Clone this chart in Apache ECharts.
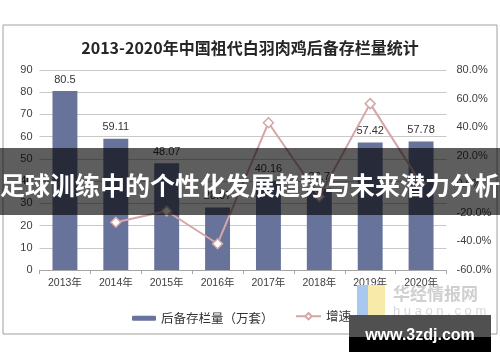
<!DOCTYPE html>
<html><head><meta charset="utf-8">
<script src="https://cdn.jsdelivr.net/npm/echarts@6/dist/echarts.min.js"></script>
<style>html,body{margin:0;padding:0;background:#fff;}#c{width:500px;height:362px;}</style>
</head><body><div id="c"></div>
<script>
const categories = ['2013年','2014年','2015年','2016年','2017年','2018年','2019年','2020年'];
const stockValues = [80.5, 59.11, 48.07, 28.07, 40.16, 36.70, 57.42, 57.78];
const growthValues = [null, -26.57, -18.68, -41.61, 43.07, -8.62, 56.46, 0.63];
const leftTicks = {min: 0, max: 90, interval: 10};
const rightTicks = {min: -60, max: 80, interval: 20};
const titleText = '2013-2020年中国祖代白羽肉鸡后备存栏量统计';
const barName = '后备存栏量（万套）';
const lineName = '增速（%）';
const bannerText = '足球训练中的个性化发展趋势与未来潜力分析';

const chart = echarts.init(document.getElementById('c'), null, {renderer: 'canvas'});
const font = '"Liberation Sans", Arial, "Noto Sans CJK SC", sans-serif';
chart.setOption({
  animation: false,
  backgroundColor: '#fff',
  title: {
    text: titleText, left: 'center', top: 35,
    textStyle: {fontFamily: '"Noto Sans CJK SC", serif', fontSize: 16, fontWeight: 'bold', color: '#262626'}
  },
  legend: [{
    data: [barName], left: 127, top: 307, itemWidth: 24, itemHeight: 5, itemGap: 4,
    textStyle: {fontFamily: '"Noto Sans CJK SC", sans-serif', fontSize: 12.5, color: '#333'}
  }, {
    data: [lineName], left: 290, top: 305, itemWidth: 25, itemHeight: 8, itemGap: 3,
    textStyle: {fontFamily: '"Noto Sans CJK SC", sans-serif', fontSize: 12.5, color: '#333'}
  }],
  grid: {left: 39.5, right: 53.5, top: 70, bottom: 92},
  xAxis: {
    type: 'category', data: categories,
    axisLine: {lineStyle: {color: '#a6a6a6'}},
    axisTick: {show: true, length: 4, lineStyle: {color: '#a6a6a6'}},
    axisLabel: {fontFamily: font, fontSize: 10.5, color: '#404040', margin: 8}
  },
  yAxis: [{
    type: 'value', min: leftTicks.min, max: leftTicks.max, interval: leftTicks.interval,
    axisLine: {show: false}, axisTick: {show: false},
    splitLine: {lineStyle: {color: '#c8c8c8'}},
    axisLabel: {fontFamily: font, fontSize: 11, color: '#404040', margin: 7}
  }, {
    type: 'value', min: rightTicks.min, max: rightTicks.max, interval: rightTicks.interval,
    axisLine: {show: false}, axisTick: {show: false}, splitLine: {show: false},
    axisLabel: {fontFamily: font, fontSize: 11, color: '#404040', margin: 10,
      formatter: v => v.toFixed(1) + '%'}
  }],
  series: [{
    name: barName, type: 'bar', data: stockValues, barWidth: '49%',
    itemStyle: {color: '#68739b'},
    label: {show: true, position: 'top', distance: 6, fontFamily: font, fontSize: 11, color: '#333'}
  }, {
    name: lineName, type: 'line', yAxisIndex: 1, data: growthValues,
    symbol: 'diamond', symbolSize: 10,
    lineStyle: {color: '#d6a6a6', width: 2},
    itemStyle: {color: '#fff', borderColor: '#d6a6a6', borderWidth: 1.5}
  }],
  graphic: [
    {type: 'rect', z: 0, silent: true, shape: {x: 3, y: 25, width: 494, height: 309},
     style: {fill: null, stroke: '#a0a0a0', lineWidth: 1}},
    {type: 'rect', z: 100, silent: true, shape: {x: 0, y: 148, width: 500, height: 67},
     style: {fill: 'rgba(0,0,0,0.63)'}},
    {type: 'text', z: 101, silent: true, x: 250, y: 185,
     style: {text: bannerText, fill: '#fff', font: 'bold 25px "Noto Sans CJK SC", sans-serif',
       textAlign: 'center', textVerticalAlign: 'middle'}},
    {type: 'rect', z: 90, silent: true, shape: {x: 357, y: 285, width: 11, height: 40}, style: {fill: '#a9c8f0'}},
    {type: 'rect', z: 90, silent: true, shape: {x: 368, y: 285, width: 17, height: 45}, style: {fill: '#f8eaa8'}},
    {type: 'text', z: 90, silent: true, x: 393, y: 294,
     style: {text: '华经情报网', fill: '#cfcfcf', font: 'bold 17px "Noto Sans CJK SC", sans-serif', textVerticalAlign: 'middle'}},
    {type: 'text', z: 90, silent: true, x: 393, y: 311,
     style: {text: 'h u a o n . c o m', fill: '#d8d8d8', font: '13px "Liberation Sans", sans-serif', textVerticalAlign: 'middle'}},
    {type: 'rect', z: 102, silent: true, shape: {x: 349, y: 315, width: 142, height: 22}, style: {fill: '#505050'}},
    {type: 'rect', z: 102, silent: true, shape: {x: 349, y: 337, width: 142, height: 15}, style: {fill: '#000'}},
    {type: 'text', z: 103, silent: true, x: 420, y: 336,
     style: {text: 'www.3zdj.com', fill: '#fff', font: 'bold 16px "Liberation Sans", sans-serif',
       textAlign: 'center', textVerticalAlign: 'middle'}}
  ]
});
</script></body></html>
